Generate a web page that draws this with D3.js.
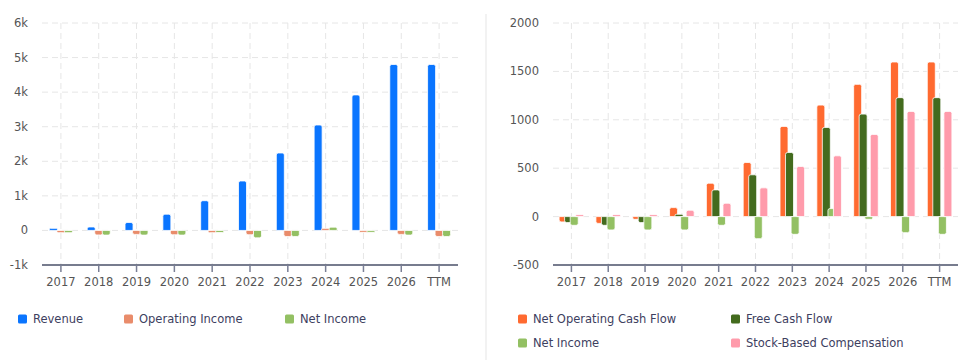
<!DOCTYPE html>
<html lang="en">
<head>
    <meta charset="UTF-8">
    <title>Income and Cash Flow</title>
    <script src="https://d3js.org/d3.v7.min.js"></script>
    <style>
        body { margin: 0; background: #fff; }
        text { font-family: "DejaVu Sans", sans-serif; }
    </style>
</head>
<body>
    <svg width="970" height="360"></svg>

    <script>
        // Categories shared by both panels
        const years = ["2017", "2018", "2019", "2020", "2021", "2022", "2023", "2024", "2025", "2026", "TTM"];

        // Left panel: income statement (millions)
        const revenue = [60, 100, 230, 470, 860, 1430, 2240, 3050, 3920, 4800, 4800];
        const operatingIncome = [-65, -130, -115, -125, -65, -125, -175, 60, -55, -115, -175];
        const netIncomeLeft = [-65, -135, -135, -135, -60, -215, -175, 95, -55, -135, -175];
        const leftTicks = [-1000, 0, 1000, 2000, 3000, 4000, 5000, 6000];

        // Right panel: cash flow (millions)
        const netOperatingCashFlow = [-55, -70, -28, 93, 345, 559, 932, 1152, 1366, 1597, 1597];
        const freeCashFlow = [-62, -90, -62, 24, 276, 432, 662, 921, 1059, 1229, 1229];
        const netIncomeRight = [-90, -138, -138, -138, -90, -228, -183, 83, -28, -166, -183];
        const stockBasedComp = [20, 20, 20, 66, 138, 297, 518, 628, 849, 1087, 1087];
        const rightTicks = [-500, 0, 500, 1000, 1500, 2000];

        const svg = d3.select("svg");

        // Bar path with rounded corners on the value end
        function barPath(x, w, y0, y1, r) {
            const h = Math.abs(y1 - y0);
            r = Math.min(r, h / 2, w / 2);
            if (y1 < y0) {
                return `M${x},${y0} V${y1 + r} Q${x},${y1} ${x + r},${y1} H${x + w - r} Q${x + w},${y1} ${x + w},${y1 + r} V${y0} Z`;
            }
            return `M${x},${y0} V${y1 - r} Q${x},${y1} ${x + r},${y1} H${x + w - r} Q${x + w},${y1} ${x + w},${y1 - r} V${y0} Z`;
        }

        function drawPanel(opts) {
            const g = svg.append("g");
            const x = d3.scaleBand().domain(years).range(opts.xRange);
            const y = d3.scaleLinear().domain(opts.yDomain).range([265, 23]);
            const top = y.range()[1], bottom = y.range()[0];

            // Horizontal dashed gridlines
            g.selectAll(".hgrid")
                .data(opts.ticks.slice(1))
                .enter().append("line")
                .attr("x1", opts.xRange[0]).attr("x2", opts.xRange[1])
                .attr("y1", d => y(d)).attr("y2", d => y(d))
                .attr("stroke", "#e6e6e6").attr("stroke-dasharray", "6,4");

            // Vertical dashed gridlines at category centres
            g.selectAll(".vgrid")
                .data(years)
                .enter().append("line")
                .attr("x1", d => x(d) + x.bandwidth() / 2).attr("x2", d => x(d) + x.bandwidth() / 2)
                .attr("y1", top).attr("y2", bottom)
                .attr("stroke", "#e6e6e6").attr("stroke-dasharray", "6,4");

            // Y labels
            g.selectAll(".ylab")
                .data(opts.ticks)
                .enter().append("text")
                .attr("x", opts.yLabelX)
                .attr("y", d => y(d))
                .attr("dy", "0.35em")
                .attr("text-anchor", "end")
                .attr("fill", "#555")
                .style("font-size", "11.5px")
                .text(opts.format);

            // Bars
            opts.series.forEach((s, i) => {
                g.selectAll(".bar" + i)
                    .data(s.values)
                    .enter().append("path")
                    .attr("d", (v, j) => {
                        const cx = x(years[j]) + x.bandwidth() / 2 + opts.offsets[i];
                        return barPath(cx - opts.barWidth / 2, opts.barWidth, y(0), y(v), 2);
                    })
                    .attr("fill", s.color)
                    .attr("stroke", "#fff")
                    .attr("stroke-width", 0.8);
            });

            // Bottom axis
            const axis = g.append("g")
                .attr("transform", `translate(0,${bottom})`)
                .call(d3.axisBottom(x).tickSize(7).tickPadding(6));
            axis.select(".domain").attr("stroke", "#4a5068").attr("stroke-width", 1.5)
                .attr("d", `M${opts.xRange[0]},0H${opts.xRange[1]}`);
            axis.selectAll(".tick line").attr("stroke", "#7a7f95").attr("stroke-width", 1.5);
            axis.selectAll(".tick text")
                .attr("fill", "#555")
                .style("font-size", "11.5px")
                .style("font-family", "DejaVu Sans, sans-serif");

            // Legend
            opts.series.forEach((s, i) => {
                const lx = opts.legend[i][0], ly = opts.legend[i][1];
                g.append("rect")
                    .attr("x", lx).attr("y", ly - 4.5)
                    .attr("width", 9).attr("height", 9).attr("rx", 1.5)
                    .attr("fill", s.color);
                g.append("text")
                    .attr("x", lx + 15).attr("y", ly)
                    .attr("dy", "0.35em")
                    .attr("fill", "#3d4060")
                    .style("font-size", "11.5px")
                    .text(s.name);
            });
        }

        // Left panel
        drawPanel({
            xRange: [42, 458],
            yDomain: [-1000, 6000],
            ticks: leftTicks,
            yLabelX: 28,
            format: d => d === 0 ? "0" : (d / 1000) + "k",
            barWidth: 8,
            offsets: [-7.5, 0, 7.5],
            series: [
                {name: "Revenue", values: revenue, color: "#0a75ff"},
                {name: "Operating Income", values: operatingIncome, color: "#e98c6b"},
                {name: "Net Income", values: netIncomeLeft, color: "#93c063"}
            ],
            legend: [[18, 319], [124, 319], [285, 319]]
        });

        // Separator between panels
        svg.append("line")
            .attr("x1", 486).attr("x2", 486)
            .attr("y1", 14).attr("y2", 360)
            .attr("stroke", "#eeeeee").attr("stroke-width", 1.5);

        // Right panel
        drawPanel({
            xRange: [553, 958],
            yDomain: [-500, 2000],
            ticks: rightTicks,
            yLabelX: 539,
            format: d => String(d),
            barWidth: 8,
            offsets: [-8.3, -2.8, 2.8, 8.3],
            series: [
                {name: "Net Operating Cash Flow", values: netOperatingCashFlow, color: "#ff6a30"},
                {name: "Free Cash Flow", values: freeCashFlow, color: "#436b1e"},
                {name: "Net Income", values: netIncomeRight, color: "#93c063"},
                {name: "Stock-Based Compensation", values: stockBasedComp, color: "#ff9bab"}
            ],
            legend: [[518, 319], [731, 319], [518, 343], [731, 343]]
        });
    </script>
</body>
</html>
